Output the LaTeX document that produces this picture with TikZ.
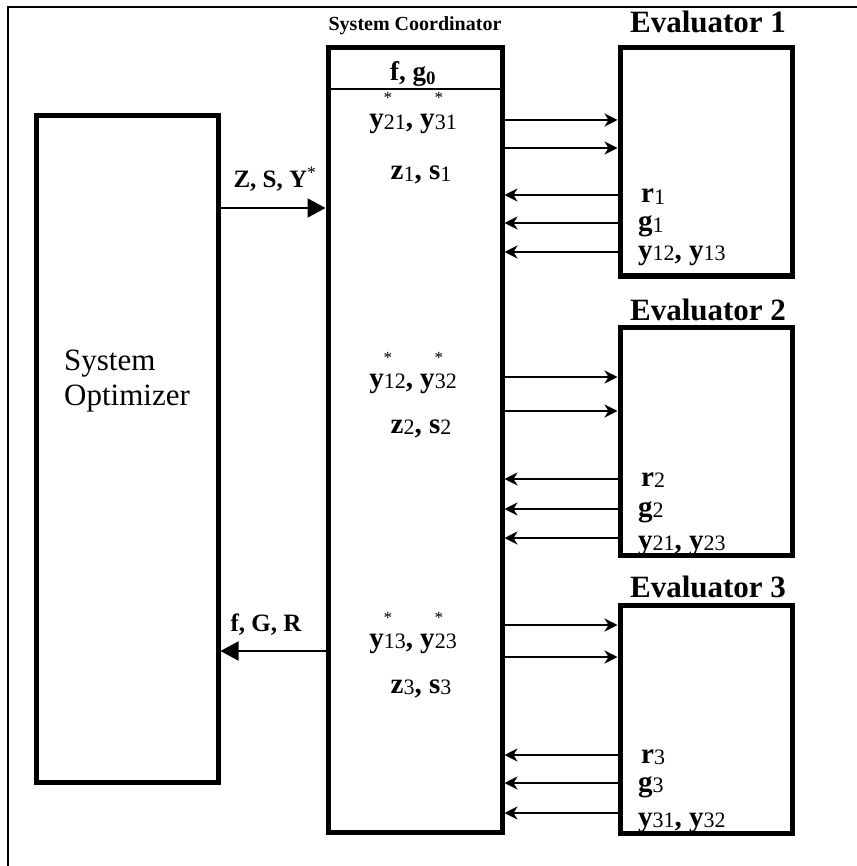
\documentclass[tikz,border=0pt]{standalone}
\usepackage{fontspec}
\setmainfont{Liberation Serif}
\usetikzlibrary{arrows.meta}
\newcommand{\sbs}[1]{\raisebox{-1.5pt}{\mdseries\fontsize{22}{22}\selectfont #1}}
\newcommand{\yst}[1]{\textbf{y}\makebox[0pt]{\hspace{8pt}\raisebox{24pt}{\mdseries\fontsize{17}{17}\selectfont *}}\sbs{#1}}
\begin{document}
\begin{tikzpicture}[x=1pt,y=-1pt,
  box/.style={draw, line width=5pt, inner sep=0pt},
  lbl/.style={font=\bfseries\fontsize{29}{32}\selectfont, inner sep=0pt, anchor=base},
  ttl/.style={font=\bfseries\fontsize{31}{34}\selectfont, inner sep=0pt},
  optf/.style={font=\fontsize{31}{35}\selectfont, inner sep=0pt, anchor=base west},
  arr/.style={line width=2.4pt, -{Stealth[length=13pt,width=13pt,inset=4pt]}},
  bigarr/.style={line width=2pt, -{Triangle[length=18pt,width=19pt]}}]
\useasboundingbox (0,0) rectangle (856,866);
\draw[line width=1.5pt] (8,880) -- (8,7) -- (870,7);
% system optimizer
\node[box, minimum width=182pt, minimum height=666pt] (opt) at (127,449) {};
\node[optf] (optl1) at (64,370) {System};
\node[optf] (optl2) at (64,405) {Optimizer};
% coordinator
\node[box, minimum width=174pt, minimum height=784pt] (coord) at (415,440) {};
\node[font=\bfseries\fontsize{20}{24}\selectfont, inner sep=0pt] (coordt) at (415,26) {System Coordinator};
\coordinate (divl) at (328,89);
\coordinate (divr) at (502,89);
\draw[line width=1.2pt] (divl) -- (divr);
\node[lbl, font=\bfseries\fontsize{27}{30}\selectfont] (fg) at (413,81) {f, g\textsubscript{0}};
\node[lbl] (ya) at (413,128) {\yst{21}, \yst{31}};
\node[lbl] (za) at (421,180) {z\sbs{1}, s\sbs{1}};
\node[lbl] (yb) at (413,387) {\yst{12}, \yst{32}};
\node[lbl] (zb) at (421,433) {z\sbs{2}, s\sbs{2}};
\node[lbl] (yc) at (413,647) {\yst{13}, \yst{23}};
\node[lbl] (zc) at (421,693) {z\sbs{3}, s\sbs{3}};
% optimizer arrows
\node[lbl, font=\bfseries\fontsize{25}{28}\selectfont] (zsy) at (275,188) {Z, S, Y\textsuperscript{\mdseries*}};
\node[lbl, font=\bfseries\fontsize{25}{28}\selectfont] (fgr) at (266,631) {f, G, R};
\draw[bigarr] (opt.east |- 0,208) -- (coord.west |- 0,208);
\draw[bigarr] (coord.west |- 0,651) -- (opt.east |- 0,651);
% evaluators
\foreach \i/\cy/\ty/\ra/\rb/\la/\lb/\lc/\ya/\yb/\br/\bg/\by in
  {1/162/22/120/148/195/223/252/12/13/203/231/259,
   2/441.5/310/377/411/479/509/538/21/23/486/516/549,
   3/719.5/587/625/657/755/783/813/31/32/763/791/826}{
  \node[box, minimum width=172pt, minimum height=228pt] (ev\i) at (706,\cy) {};
  \node[ttl] (evt\i) at (708,\ty) {Evaluator \i};
  \draw[arr] (coord.east |- 0,\ra) -- (ev\i.west |- 0,\ra);
  \draw[arr] (coord.east |- 0,\rb) -- (ev\i.west |- 0,\rb);
  \draw[arr] (ev\i.west |- 0,\la) -- (coord.east |- 0,\la);
  \draw[arr] (ev\i.west |- 0,\lb) -- (coord.east |- 0,\lb);
  \draw[arr] (ev\i.west |- 0,\lc) -- (coord.east |- 0,\lc);
  \node[lbl, anchor=base west] (r\i) at (641,\br) {r\sbs{\i}};
  \node[lbl, anchor=base west] (g\i) at (638,\bg) {g\sbs{\i}};
  \node[lbl, anchor=base west] (yy\i) at (638,\by) {y\sbs{\ya}, y\sbs{\yb}};
}
\end{tikzpicture}
\end{document}
